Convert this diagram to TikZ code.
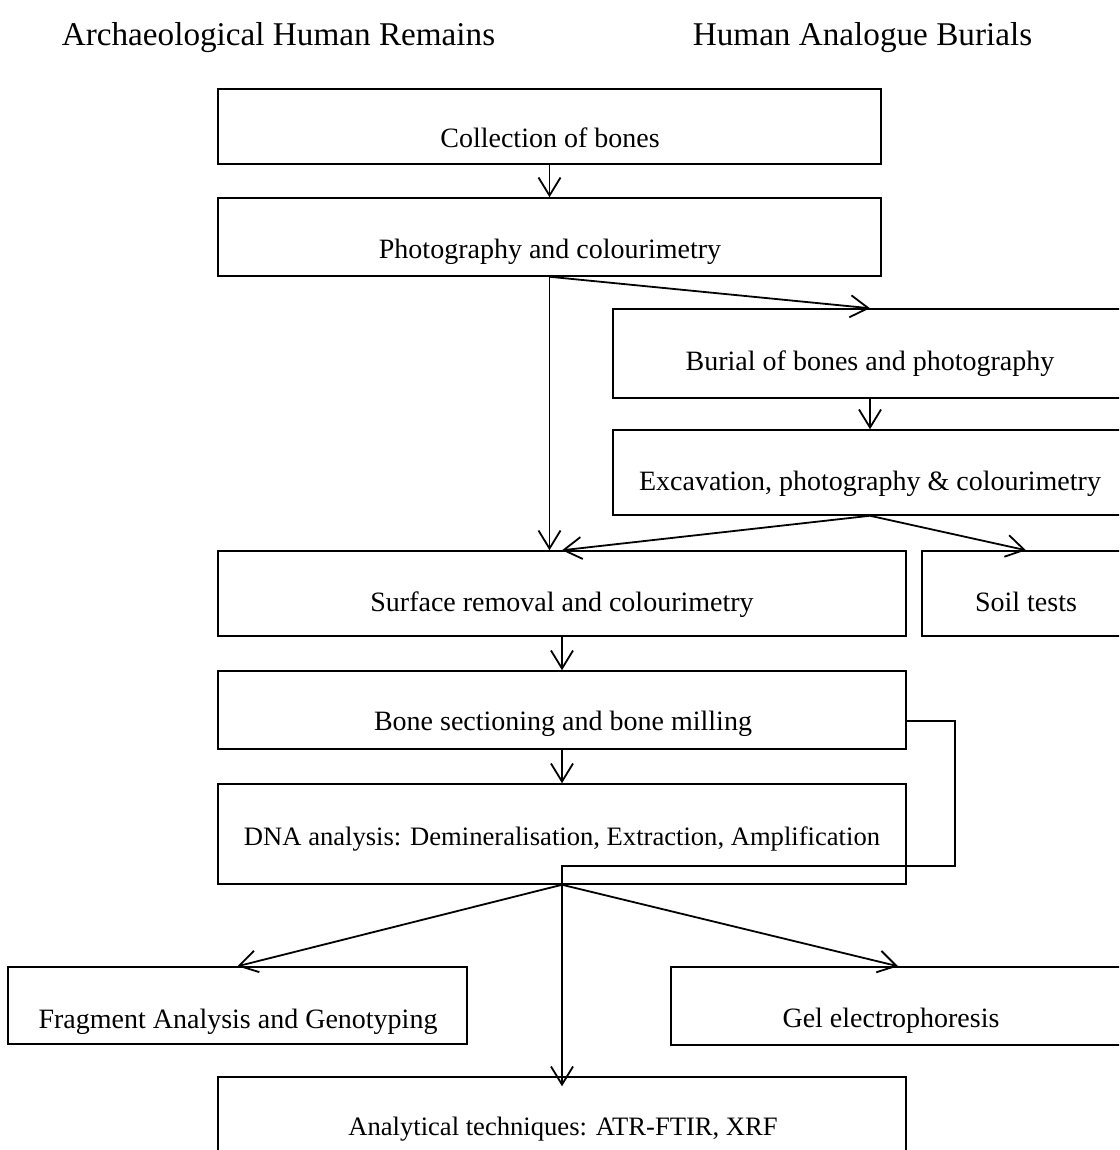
\documentclass[tikz,border=0pt]{standalone}
\usepackage{fontspec}
\setmainfont{Liberation Serif}
\usetikzlibrary{arrows.meta,fit}
\begin{document}
\begin{tikzpicture}[x=0.5pt,y=-0.5pt,
  box/.style={draw=black,line width=0.75pt,inner sep=0pt,rectangle},
  lbl/.style={anchor=base,inner sep=0pt,font=\fontsize{14}{16}\selectfont},
  tlbl/.style={anchor=base,inner sep=0pt,font=\fontsize{13.3}{15}\selectfont},
  head/.style={anchor=base,inner sep=0pt,font=\fontsize{16.6}{19}\selectfont},
  conn/.style={line width=0.9pt,-{Straight Barb[length=9pt,width=11pt,line width=0.9pt]}}]
\useasboundingbox (0,0) rectangle (1119,1150);
\clip (0,0) rectangle (1119,1150);

% headers
\node[head] (h1) at (278.5,46) {Archaeological Human Remains};
\node[head] (h2) at (862.5,46) {Human Analogue Burials};

% boxes
\node[box,fit={(218,89)(881,164)}] (col) {};
\node[box,fit={(218,198)(881,276)}] (pho) {};
\node[box,fit={(613,309)(1127,398)}] (bur) {};
\node[box,fit={(613,430)(1127,515)}] (exc) {};
\node[box,fit={(218,551)(906,636)}] (sur) {};
\node[box,fit={(922,551)(1130,636)}] (soil) {};
\node[box,fit={(218,671)(906,749)}] (bone) {};
\node[box,fit={(218,784)(906,884)}] (dna) {};
\node[box,fit={(8,967)(467,1044)}] (frag) {};
\node[box,fit={(671,967)(1125,1045)}] (gel) {};
\node[box,fit={(218,1077)(906,1175)}] (anal) {};

% labels
\node[lbl] (tcol) at (550,148) {Collection of bones};
\node[lbl] (tpho) at (550,258) {Photography and colourimetry};
\node[lbl] (tbur) at (870,370) {Burial of bones and photography};
\node[lbl] (texc) at (870,490) {Excavation, photography \& colourimetry};
\node[lbl] (tsur) at (562,611) {Surface removal and colourimetry};
\node[lbl] (tsoil) at (1026,611) {Soil tests};
\node[lbl] (tbone) at (563,730) {Bone sectioning and bone milling};
\node[tlbl] (tdna) at (562,845) {DNA analysis: Demineralisation, Extraction, Amplification};
\node[lbl] (tfrag) at (238,1028) {Fragment Analysis and Genotyping};
\node[lbl] (tgel) at (891,1027) {Gel electrophoresis};
\node[tlbl] (tanal) at (563,1135) {Analytical techniques: ATR-FTIR, XRF};

% connectors
\draw[conn] (col.south) -- (pho.north);
\draw[conn] (pho.south) -- (pho.south |- sur.north);
\draw[conn] (pho.south) -- (bur.north);
\draw[conn] (bur.south) -- (exc.north);
\draw[conn] (exc.south) -- (sur.north);
\draw[conn] (exc.south) -- (soil.north);
\draw[conn] (sur.south) -- (bone.north);
\draw[conn] (bone.south) -- (dna.north);
\draw[conn] (dna.south) -- (frag.north);
\draw[conn] (dna.south) -- (gel.north);
\draw[conn] ([yshift=-5.5pt]bone.east) -- ++(48,0) -- ++(0,145) -| ([yshift=-5pt]anal.north);
\end{tikzpicture}
\end{document}
